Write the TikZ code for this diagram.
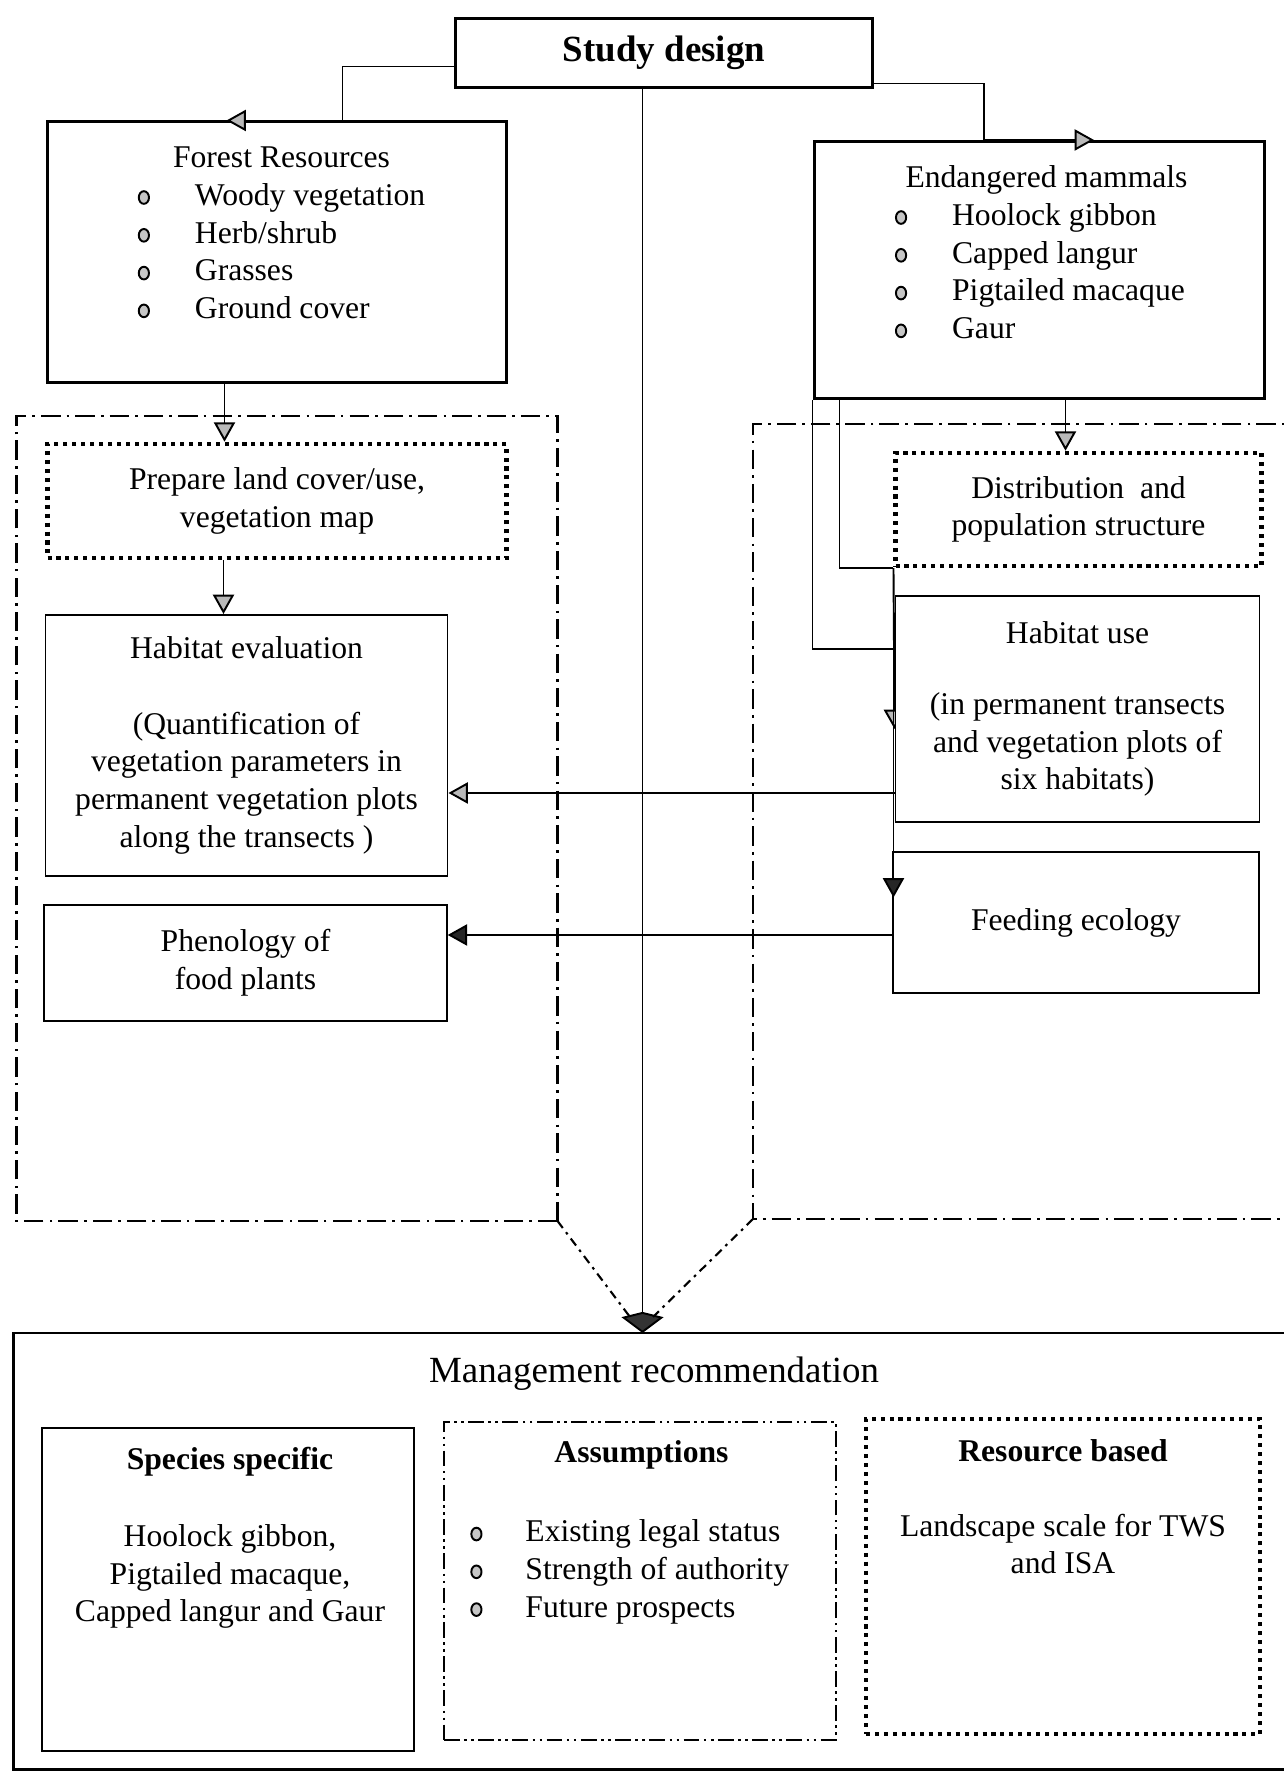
\documentclass[tikz,border=0pt]{standalone}
\usepackage{fontspec}
\setmainfont{Liberation Serif}
\usetikzlibrary{arrows.meta,backgrounds}

\newcommand{\bodysize}{\fontsize{18}{21.5}\selectfont}
\newcommand{\listdot}{\tikz[baseline=-4.4pt]\draw[line width=1.1pt,fill=gray!45] (0,0) ellipse (2.9pt and 3.6pt);}

\tikzset{
  topbox/.style={draw, line width=1.7pt, fill=white, inner sep=0pt},
  thinbox/.style={draw, line width=1.1pt, fill=white, align=center, inner sep=0pt},
  dotbox/.style={draw, line width=2.3pt, dash pattern=on 2.3pt off 2.8pt, fill=white, align=center, inner sep=0pt},
  ddotbox/.style={draw, line width=1.1pt, dash pattern=on 9pt off 2.5pt on 1.5pt off 2.5pt on 1.5pt off 2.5pt, fill=white, inner sep=0pt},
  groupframe/.style={line width=1.2pt, dash pattern=on 11pt off 3.5pt on 1.5pt off 3.5pt},
  slantline/.style={line width=1.2pt, dash pattern=on 5pt off 3pt on 1.5pt off 3pt},
  wire/.style={line width=1.1pt},
  link/.style={line width=1.1pt, -{Triangle[length=11pt,width=12pt,fill=gray!55]}},
  darklink/.style={line width=1.1pt, -{Triangle[length=11pt,width=12pt,fill=gray!30!black]}},
  listnode/.style={inner sep=0pt},
  boldtitle/.style={anchor=base, font=\bodysize\bfseries},
}

\begin{document}
\begin{tikzpicture}[font=\bodysize]
\useasboundingbox (0,0) rectangle (25.66,35.54);

% top of the design
\node[topbox, minimum width=8.35cm, minimum height=1.38cm, font=\bfseries\fontsize{21}{25}\selectfont] (study) at (13.28,34.48) {Study design};

\node[topbox, minimum width=9.18cm, minimum height=5.22cm] (forest) at (5.54,30.49) {};
\node[listnode] (forestlist) at (5.63,30.83) {\begin{tabular}{@{}c@{\hspace{0.9cm}}l@{}}
\multicolumn{2}{c}{Forest Resources}\\
\listdot & Woody vegetation\\
\listdot & Herb/shrub\\
\listdot & Grasses\\
\listdot & Ground cover
\end{tabular}};

\node[topbox, minimum width=9.0cm, minimum height=5.14cm] (endang) at (20.78,30.14) {};
\node[listnode] (endanglist) at (20.93,30.43) {\begin{tabular}{@{}c@{\hspace{0.9cm}}l@{}}
\multicolumn{2}{c}{Endangered mammals}\\
\listdot & Hoolock gibbon\\
\listdot & Capped langur\\
\listdot & Pigtailed macaque\\
\listdot & Gaur
\end{tabular}};

% resource side
\draw[groupframe] (11.15,11.12) -- (0.33,11.12) -- (0.33,27.22) -- (11.15,27.22) -- cycle;
\node[dotbox, minimum width=9.18cm, minimum height=2.29cm] (prep) at (5.54,25.52) {Prepare land cover/use,\\vegetation map};
\node[thinbox, minimum width=8.04cm, minimum height=5.22cm] (habeval) at (4.93,20.63) {Habitat evaluation\\[21.5pt](Quantification of\\vegetation parameters in\\permanent vegetation plots\\along the transects )};
\node[thinbox, minimum width=8.05cm, minimum height=2.31cm] (pheno) at (4.91,16.28) {Phenology of\\food plants};

% mammal side
\draw[groupframe] (26.2,27.06) -- (15.06,27.06) -- (15.06,11.16) -- (26.2,11.16);
\node[dotbox, minimum width=7.32cm, minimum height=2.27cm] (distr) at (21.57,25.35) {Distribution~ and\\population structure};
\node[thinbox, minimum width=7.28cm, minimum height=4.53cm] (habuse) at (21.55,21.36) {Habitat use\\[19pt](in permanent transects\\and vegetation plots of\\six habitats)};
\node[thinbox, minimum width=7.33cm, minimum height=2.81cm] (feed) at (21.52,17.09) {Feeding ecology};

% recommendations
\node[topbox, line width=1.4pt, minimum width=26.03cm, minimum height=8.73cm] (mgmt) at (13.285,4.515) {};
\node[anchor=base, font=\fontsize{21}{25}\selectfont] (mgmttitle) at (13.08,7.88) {Management recommendation};

\node[thinbox, line width=1.4pt, minimum width=7.43cm, minimum height=6.46cm] (species) at (4.56,3.75) {};
\node[boldtitle] (spectitle) at (4.6,6.14) {Species specific};
\node[align=center] (spectext) at (4.6,4.01) {Hoolock gibbon,\\Pigtailed macaque,\\Capped langur and Gaur};

\node[ddotbox, minimum width=7.85cm, minimum height=6.35cm] (assume) at (12.8,3.92) {};
\node[boldtitle] (assumetitle) at (12.83,6.28) {Assumptions};
\node[listnode, anchor=west] (assumelist) at (9.4,4.1) {\begin{tabular}{@{}c@{\hspace{0.86cm}}l@{}}
\listdot & Existing legal status\\
\listdot & Strength of authority\\
\listdot & Future prospects
\end{tabular}};

\node[dotbox, minimum width=7.88cm, minimum height=6.3cm] (resource) at (21.26,4.01) {};
\node[boldtitle] (restitle) at (21.26,6.3) {Resource based};
\node[align=center] (restext) at (21.26,4.66) {Landscape scale for TWS\\and ISA};

% connectors
\draw[link] ([yshift=-0.27cm]study.west) -| ([xshift=1.31cm]forest.north) -- ([xshift=-1.01cm]forest.north);
\draw[link] ([yshift=-0.61cm]study.east) -| ([xshift=-1.1cm]endang.north) -- ([xshift=1.1cm]endang.north);
\draw[link] ([xshift=-1.05cm]forest.south) -- ([xshift=-1.05cm]prep.north);
\draw[link] ([xshift=-1.07cm]prep.south) -- ([xshift=-1.07cm]prep.south |- habeval.north);
\draw[link] ([xshift=0.53cm]endang.south) -- ([xshift=0.53cm]endang.south |- distr.north);
\draw[wire] ([xshift=0.54cm]endang.south west) |- (distr.south west);
\draw[wire] (endang.south west) |- ([yshift=1.2cm]habuse.west);
\begin{pgfonlayer}{background}
\draw[link] (distr.south west) -- ([yshift=-0.4cm]habuse.west);
\end{pgfonlayer}
\coordinate (feedin) at ([yshift=0.5cm]feed.west);
\draw[darklink] (distr.south west) -- (distr.south west |- feedin);
\draw[link] ([yshift=-1.68cm]habuse.west) -- ([yshift=-1.68cm]habuse.west -| habeval.east);
\draw[darklink] ([yshift=-0.25cm]feed.west) -- ([yshift=-0.25cm]feed.west -| pheno.east);

\coordinate (drop) at (12.85,8.88);
\draw[line width=1.1pt, -{Kite[length=12pt,width=24pt,inset=3pt,fill=gray!40!black]}] (study.south -| drop) -- (drop);
\draw[slantline] (11.15,11.12) -- ([xshift=-0.25cm,yshift=0.32cm]drop);
\draw[slantline] (15.06,11.16) -- ([xshift=0.21cm,yshift=0.32cm]drop);
\end{tikzpicture}
\end{document}
